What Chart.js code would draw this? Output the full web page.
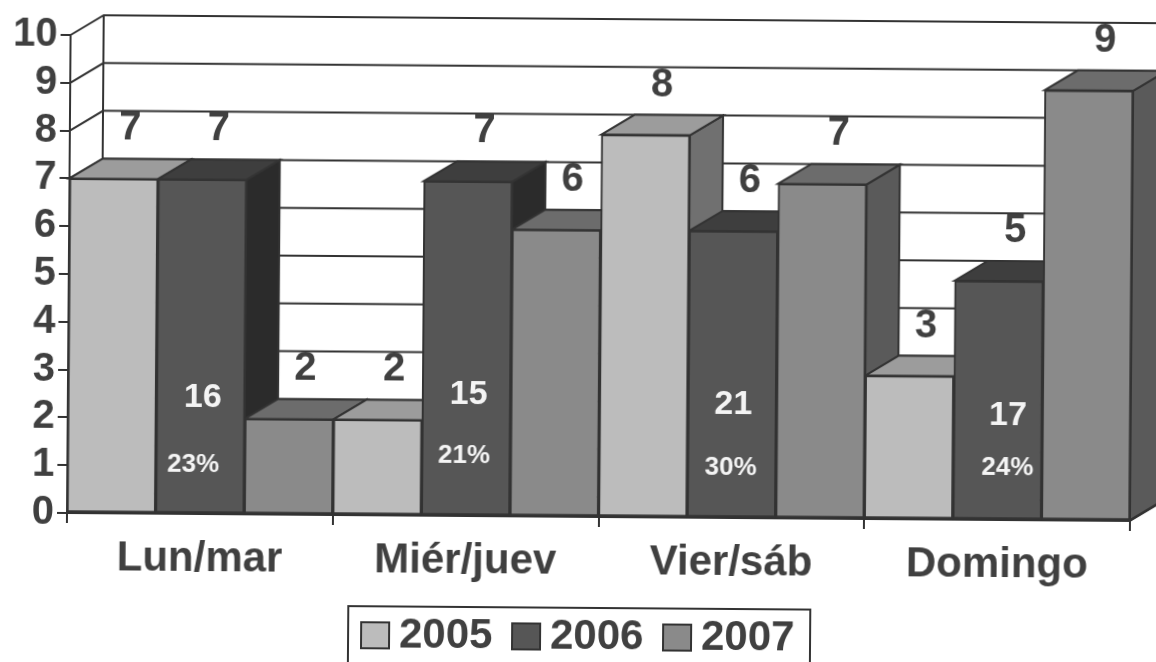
<!DOCTYPE html>
<html>
  <head>
    <meta charset="utf-8">
    <title>Lun/mar - Domingo 2005-2007</title>
    <script src="https://cdn.jsdelivr.net/npm/chart.js"></script>
    <style>
      html, body { margin: 0; padding: 0; background: #fff; overflow: hidden; width: 1156px; height: 662px; }
      /* the scanned page sits slightly crooked */
      #chart { position: absolute; left: 0; top: 0; transform: rotate(0.43deg); transform-origin: 67px 513px; }
    </style>
  </head>
  <body>
    <canvas id="chart" width="1180" height="680"></canvas>

    <script>
      const categories = ['Lun/mar', 'Miér/juev', 'Vier/sáb', 'Domingo'];
      const years = ['2005', '2006', '2007'];
      const yTicks = [0, 1, 2, 3, 4, 5, 6, 7, 8, 9, 10];
      const values2005 = [7, 2, 8, 3];
      const values2006 = [7, 7, 6, 5];
      const values2007 = [2, 6, 7, 9];
      const totals = [16, 15, 21, 17];
      const shares = ['23%', '21%', '30%', '24%'];

      // where the white labels sit inside the 2006 bar, in axis units and px off the bar centre
      const totalsAt = [2.43, 2.53, 2.38, 2.18];
      const sharesAt = [1.03, 1.26, 1.05, 1.09];
      const totalsShift = [2, 2, 1, 10];
      const sharesShift = [-7, -2, -1, 10];

      const FONT = '"Liberation Sans", Arial, sans-serif';
      const INK = '#404040';
      const LINE = '#333333';
      const DEPTH_X = 33;
      const DEPTH_Y = -20;
      const faces = [
        { front: '#bcbcbc', top: '#9c9c9c', side: '#707070' },
        { front: '#565656', top: '#3e3e3e', side: '#2b2b2b' },
        { front: '#8a8a8a', top: '#6c6c6c', side: '#5a5a5a' }
      ];

      function poly(ctx, pts, fill) {
        ctx.beginPath();
        pts.forEach((p, i) => i ? ctx.lineTo(p[0], p[1]) : ctx.moveTo(p[0], p[1]));
        ctx.closePath();
        if (fill) {
          ctx.fillStyle = fill;
          ctx.fill();
        }
        ctx.stroke();
      }

      // back wall, side wall and the top/side faces of every bar
      const depthPlugin = {
        id: 'depth',
        beforeDatasetsDraw(chart) {
          const ctx = chart.ctx;
          const area = chart.chartArea;
          const y = chart.scales.y;
          ctx.save();
          ctx.strokeStyle = LINE;
          ctx.lineWidth = 2;
          ctx.beginPath();
          yTicks.forEach(v => {
            const py = y.getPixelForValue(v);
            ctx.moveTo(area.left, py);
            ctx.lineTo(area.left + DEPTH_X, py + DEPTH_Y);
            ctx.lineTo(area.right + DEPTH_X, py + DEPTH_Y);
          });
          ctx.moveTo(area.left + DEPTH_X, area.top + DEPTH_Y);
          ctx.lineTo(area.left + DEPTH_X, area.bottom + DEPTH_Y);
          ctx.moveTo(area.right, area.bottom);
          ctx.lineTo(area.right + DEPTH_X, area.bottom + DEPTH_Y);
          ctx.stroke();

          categories.forEach((c, i) => {
            chart.data.datasets.forEach((d, j) => {
              const bar = chart.getDatasetMeta(j).data[i];
              const l = bar.x - bar.width / 2;
              const r = bar.x + bar.width / 2;
              poly(ctx, [[r, bar.y], [r + DEPTH_X, bar.y + DEPTH_Y], [r + DEPTH_X, bar.base + DEPTH_Y], [r, bar.base]], faces[j].side);
              poly(ctx, [[l, bar.y], [l + DEPTH_X, bar.y + DEPTH_Y], [r + DEPTH_X, bar.y + DEPTH_Y], [r, bar.y]], faces[j].top);
            });
          });
          ctx.restore();
        },
        afterDraw(chart) {
          const ctx = chart.ctx;
          const y = chart.scales.y;
          ctx.save();
          ctx.textAlign = 'center';
          ctx.textBaseline = 'middle';

          // value above each bar
          ctx.fillStyle = INK;
          ctx.font = 'bold 40px ' + FONT;
          chart.data.datasets.forEach((d, j) => {
            chart.getDatasetMeta(j).data.forEach((bar, i) => {
              ctx.fillText(d.data[i], bar.x + 16, bar.y - 50);
            });
          });

          // totals and shares on the 2006 bars
          ctx.fillStyle = '#f4f4f4';
          const meta = chart.getDatasetMeta(1);
          categories.forEach((c, i) => {
            const x = meta.data[i].x;
            ctx.font = 'bold 34px ' + FONT;
            ctx.fillText(totals[i], x + totalsShift[i], y.getPixelForValue(totalsAt[i]));
            ctx.font = 'bold 26px ' + FONT;
            ctx.fillText(shares[i], x + sharesShift[i], y.getPixelForValue(sharesAt[i]));
          });

          // legend box, its bottom edge runs off the page
          ctx.strokeStyle = LINE;
          ctx.lineWidth = 2;
          ctx.strokeRect(349, 604, 462, 72);
          ctx.font = 'bold 42px ' + FONT;
          ctx.textAlign = 'left';
          ctx.textBaseline = 'alphabetic';
          years.forEach((label, j) => {
            const x = 362 + j * 151;
            ctx.fillStyle = faces[j].front;
            ctx.fillRect(x, 620, 28, 26);
            ctx.strokeRect(x, 620, 28, 26);
            ctx.fillStyle = INK;
            ctx.fillText(label, x + 38, 645);
          });
          ctx.restore();
        }
      };

      new Chart(document.getElementById('chart'), {
        type: 'bar',
        data: {
          labels: categories,
          datasets: [
            { label: years[0], data: values2005, backgroundColor: faces[0].front },
            { label: years[1], data: values2006, backgroundColor: faces[1].front },
            { label: years[2], data: values2007, backgroundColor: faces[2].front }
          ]
        },
        options: {
          responsive: false,
          animation: false,
          categoryPercentage: 1,
          barPercentage: 1,
          borderColor: LINE,
          borderWidth: 2,
          borderSkipped: false,
          layout: { padding: { top: 35, right: 50 } },
          plugins: { legend: { display: false }, tooltip: { enabled: false } },
          scales: {
            x: {
              afterFit: s => { s.height = 167; },
              border: { color: LINE, width: 2 },
              grid: { offset: true, drawOnChartArea: false, color: LINE, lineWidth: 2, tickLength: 10 },
              ticks: { color: INK, padding: 10, maxRotation: 0, font: { family: FONT, size: 42, weight: 'bold' } }
            },
            y: {
              min: 0,
              max: 10,
              afterFit: s => { s.width = 67; },
              border: { color: LINE, width: 2 },
              grid: { drawOnChartArea: false, color: LINE, lineWidth: 2, tickLength: 10 },
              ticks: { stepSize: 1, autoSkip: false, color: INK, padding: 3, font: { family: FONT, size: 40, weight: 'bold' } }
            }
          }
        },
        plugins: [depthPlugin]
      });
    </script>
  </body>
</html>
